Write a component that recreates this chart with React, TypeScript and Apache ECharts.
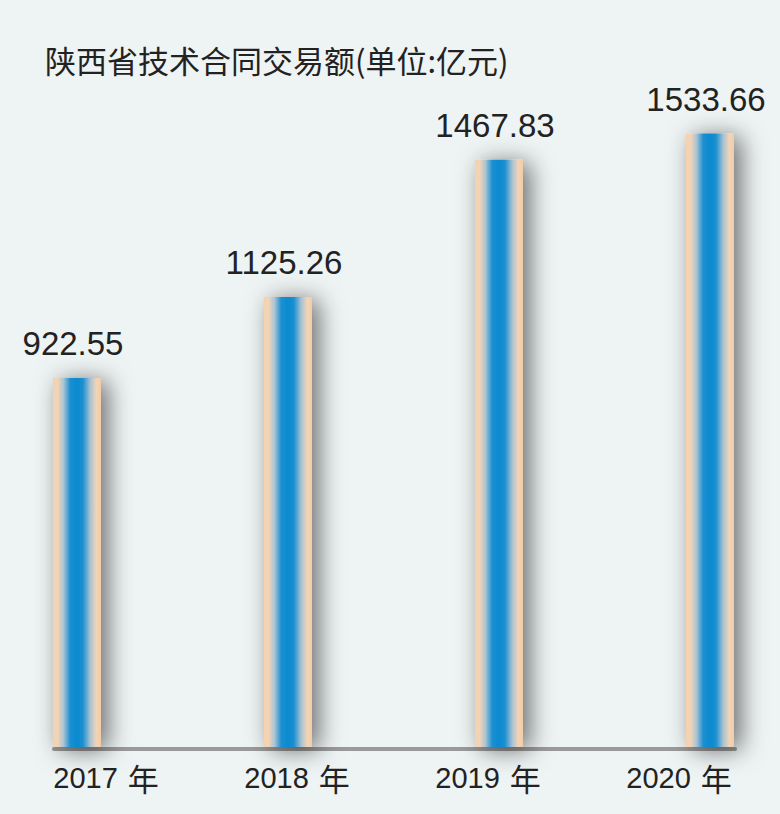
import React, { useEffect, useRef } from 'react';
import * as echarts from 'echarts';

const years = ['2017', '2018', '2019', '2020'];
const amounts = [922.55, 1125.26, 1467.83, 1533.66];
const yearSuffix = '年';
const titleText = '陕西省技术合同交易额(单位:亿元)';

const numFont = "'Liberation Sans', Arial, sans-serif";
const cjkFont = "'Noto Sans CJK SC', sans-serif";

const App = () => {
  const chartRef = useRef<HTMLDivElement>(null);

  useEffect(() => {
    if (!chartRef.current) return;
    const chart = echarts.init(chartRef.current, null, { renderer: 'svg' });

    const barFill = new echarts.graphic.LinearGradient(0, 0, 1, 0, [
      { offset: 0, color: '#f5d2ac' },
      { offset: 0.1, color: '#f1d4b7' },
      { offset: 0.22, color: '#a9c4d5' },
      { offset: 0.36, color: '#1b8fd0' },
      { offset: 0.5, color: '#0a8ad0' },
      { offset: 0.62, color: '#1b8fd0' },
      { offset: 0.78, color: '#aac3d1' },
      { offset: 0.9, color: '#f1d4b7' },
      { offset: 1, color: '#f3cca6' }
    ]);

    const option = {
      animation: false,
      backgroundColor: '#eef3f3',
      title: {
        text: titleText,
        left: 40,
        top: 39,
        textStyle: {
          fontFamily: cjkFont,
          fontSize: 31,
          fontWeight: 'normal',
          color: '#222'
        }
      },
      grid: [
        { left: 77, right: 70, top: 107, bottom: 67 },
        { left: 54, right: 45, top: 107, bottom: 65 },
        { left: 106, right: 101, top: 107, bottom: 67 }
      ],
      xAxis: [
        { gridIndex: 0, type: 'category', data: years, boundaryGap: false, show: false },
        {
          gridIndex: 1,
          type: 'value',
          min: 0,
          max: 1,
          axisLine: { show: true, lineStyle: { color: '#9a9a9a', width: 4 } },
          axisTick: { show: false },
          axisLabel: { show: false },
          splitLine: { show: false }
        },
        {
          gridIndex: 2,
          type: 'category',
          data: years,
          boundaryGap: false,
          axisLine: { show: false },
          axisTick: { show: false },
          axisLabel: {
            margin: 15,
            formatter: (v: string) => `{y|${v}}{n|${yearSuffix}}`,
            rich: {
              y: { fontFamily: numFont, fontSize: 29, color: '#222' },
              n: { fontFamily: cjkFont, fontSize: 31, color: '#222', padding: [0, 0, 0, 10] }
            }
          }
        }
      ],
      yAxis: [
        { gridIndex: 0, type: 'value', min: 0, max: 1600, show: false },
        { gridIndex: 1, type: 'value', min: 0, max: 1, show: false },
        { gridIndex: 2, type: 'value', min: 0, max: 1, show: false }
      ],
      series: [
        {
          type: 'bar',
          xAxisIndex: 0,
          yAxisIndex: 0,
          data: amounts,
          barWidth: 48,
          itemStyle: {
            color: barFill,
            shadowColor: 'rgba(0, 0, 0, 0.55)',
            shadowBlur: 24,
            shadowOffsetX: 7,
            shadowOffsetY: 3
          },
          label: {
            show: true,
            position: 'top',
            distance: 18,
            offset: [-4, 0],
            fontFamily: numFont,
            fontSize: 33,
            color: '#222',
            formatter: (p: any) => Number(p.value).toFixed(2)
          }
        }
      ]
    };

    chart.setOption(option);
    return () => chart.dispose();
  }, []);

  return (
    <div
      ref={chartRef}
      style={{ position: 'fixed', left: 0, top: 0, width: 780, height: 814 }}
    />
  );
};

export default App;
